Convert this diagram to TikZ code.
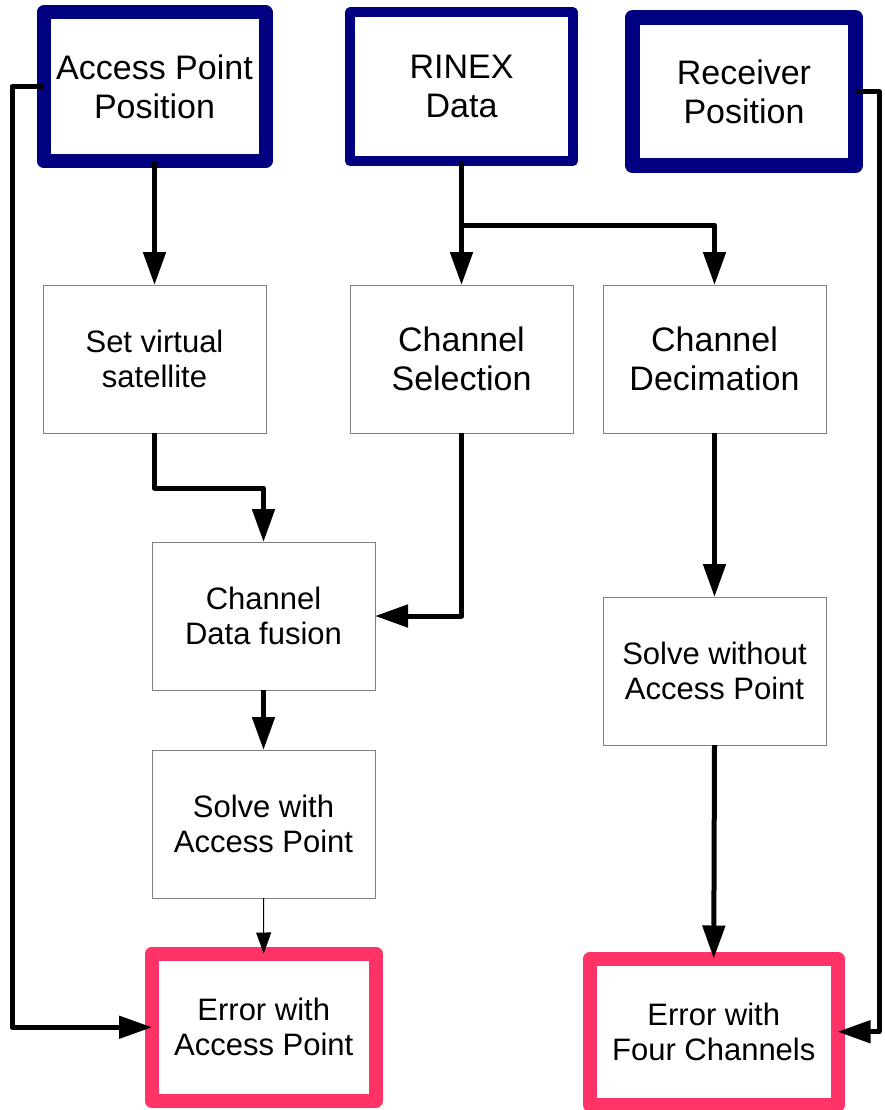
\documentclass[tikz,border=0pt]{standalone}
\usepackage{fontspec}
\setmainfont{Liberation Sans}
\usetikzlibrary{arrows.meta}
\definecolor{navyb}{HTML}{000080}
\definecolor{pinkb}{HTML}{FF3366}
\definecolor{grayb}{HTML}{808080}
\begin{document}
\begin{tikzpicture}[x=1pt,y=-1pt,
  bigtext/.style={font=\fontsize{34}{39}\selectfont},
  smalltext/.style={font=\fontsize{31}{35}\selectfont},
  box/.style={rectangle, align=center, inner sep=0pt, outer sep=0pt, fill=white},
  inbox/.style={box, draw, line width=14pt, line join=round},
  thinbox/.style={box, draw=grayb, line width=1pt, minimum width=223pt, minimum height=148pt},
  conn/.style={line width=5pt, line join=round, -{Triangle[length=33pt,width=22pt]}},
  thinconn/.style={line width=1pt, -{Triangle[length=21pt,width=15pt]}},
  plainconn/.style={line width=5pt, line join=round}
]
\useasboundingbox (0,0) rectangle (884,1110);

% input boxes
\node[inbox, draw=navyb, bigtext, minimum width=222pt, minimum height=148.5pt] (app) at (154.5,86.75) {Access Point\\Position};
\node[inbox, draw=navyb, line width=10pt, bigtext, minimum width=223pt, minimum height=148.5pt] (rinex) at (461.5,86.75) {RINEX\\Data};
\node[inbox, draw=navyb, line width=15pt, bigtext, minimum width=223pt, minimum height=148pt] (recv) at (744,91.5) {Receiver\\Position};

% process boxes
\node[thinbox, smalltext] (svs) at (154.5,359) {Set virtual\\satellite};
\node[thinbox, bigtext] (csel) at (461.5,359) {Channel\\Selection};
\node[thinbox, bigtext] (cdec) at (714.5,359) {Channel\\Decimation};
\node[thinbox, smalltext] (fus) at (263.5,616) {Channel\\Data fusion};
\node[thinbox, smalltext] (swa) at (263.5,824) {Solve with\\Access Point};
\node[thinbox, smalltext] (swo) at (714.5,671) {Solve without\\Access Point};

% output boxes
\node[inbox, draw=pinkb, smalltext, minimum width=223.5pt, minimum height=147.5pt] (eap) at (263.75,1027.25) {Error with\\Access Point};
\node[inbox, draw=pinkb, smalltext, minimum width=247.5pt, minimum height=146.5pt] (efc) at (713.75,1031.75) {Error with\\Four Channels};

% helper coordinates
\coordinate (lx) at (12,0);
\coordinate (rx) at (879,0);
\coordinate (br) at (461.5,225);

% connectors
\draw[conn] (app.south) -- (svs.north);
\draw[conn] (app.west) -- (app.west -| lx) |- (eap.west);
\draw[conn] (rinex.south) -- (csel.north);
\draw[conn] (br) -| (cdec.north);
\draw[conn] (svs.south) -- ++(0,55) -| (fus.north);
\draw[conn] (csel.south) |- (fus.east);
\draw[conn] (fus.south) -- (swa.north);
\draw[thinconn] (swa.south) -- (eap.north);
\draw[conn] (cdec.south) -- (swo.north);
\draw[conn] (swo.south) -- (efc.north);
\draw[conn] (recv.east) -- (recv.east -| rx) |- (efc.east);
\end{tikzpicture}
\end{document}
